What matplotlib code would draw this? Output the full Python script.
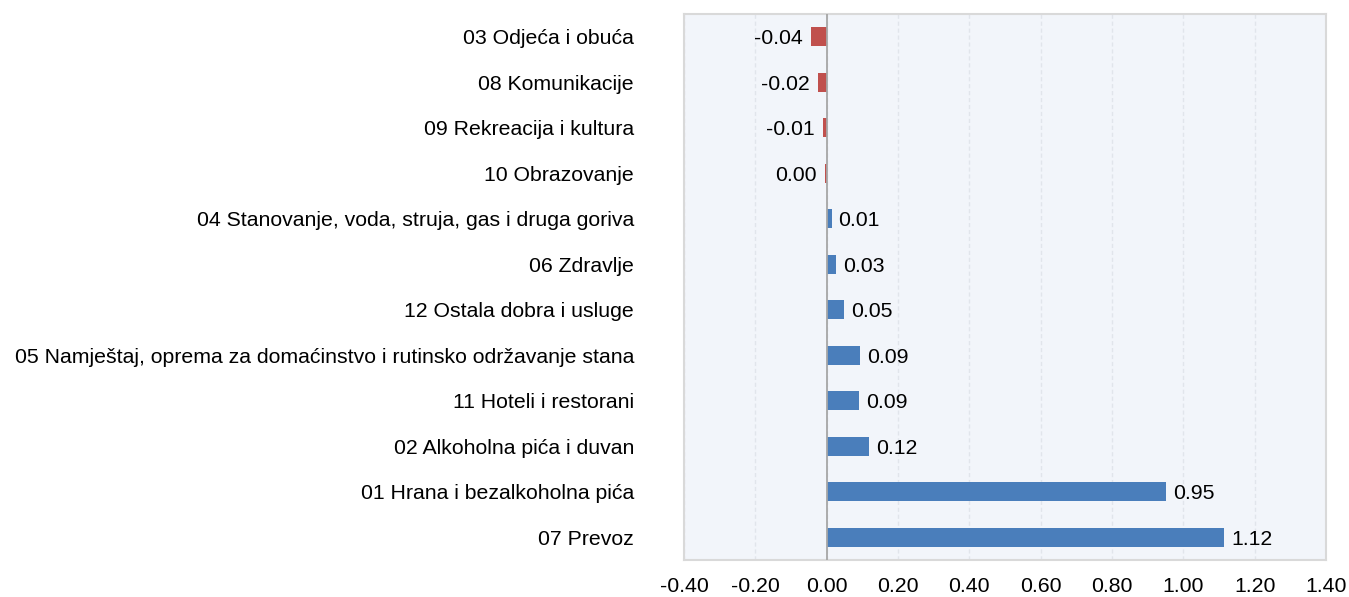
import matplotlib.pyplot as plt

plt.rcParams['font.family'] = ['Liberation Sans', 'DejaVu Sans']

# categories, top to bottom
categories = [
    '03 Odjeća i obuća',
    '08 Komunikacije',
    '09 Rekreacija i kultura',
    '10 Obrazovanje',
    '04 Stanovanje, voda, struja, gas i druga goriva',
    '06 Zdravlje',
    '12 Ostala dobra i usluge',
    '05 Namještaj, oprema za domaćinstvo i rutinsko održavanje stana',
    '11 Hoteli i restorani',
    '02 Alkoholna pića i duvan',
    '01 Hrana i bezalkoholna pića',
    '07 Prevoz',
]
values = [-0.044, -0.024, -0.011, -0.004, 0.014, 0.026, 0.049, 0.093, 0.092, 0.119, 0.951, 1.114]
value_labels = ['-0.04', '-0.02', '-0.01', '0.00', '0.01', '0.03', '0.05', '0.09', '0.09', '0.12', '0.95', '1.12']
x_ticks = [-0.4, -0.2, 0.0, 0.2, 0.4, 0.6, 0.8, 1.0, 1.2, 1.4]

BLUE = '#4A7EBB'
RED = '#C0504D'
FS = 15.3

fig = plt.figure(figsize=(13.49, 5.97), dpi=100)
ax = fig.add_axes([684 / 1349, 1 - 560 / 597, 642 / 1349, 546 / 597])
ax.set_facecolor('#F2F5FA')

ypos = list(range(len(categories)))
colors = [RED if v < 0 else BLUE for v in values]
ax.barh(ypos, values, height=0.41, color=colors, zorder=3)

for y, v, lab in zip(ypos, values, value_labels):
    if v < 0:
        ax.annotate(lab, (v, y), xytext=(-6, 0), textcoords='offset points',
                    ha='right', va='center_baseline', fontsize=FS)
    else:
        ax.annotate(lab, (v, y), xytext=(5, 0), textcoords='offset points',
                    ha='left', va='center_baseline', fontsize=FS)

ax.axvline(0, color='#A6A6A6', lw=1.3, zorder=4)

ax.set_xlim(-0.4, 1.4)
ax.set_ylim(len(categories) - 0.5, -0.5)
ax.set_xticks(x_ticks)
ax.set_xticklabels(['%.2f' % t for t in x_ticks], fontsize=FS)
ax.set_yticks(ypos)
ax.set_yticklabels(categories, fontsize=FS, va='center_baseline')
ax.tick_params(axis='both', length=0)
ax.tick_params(axis='y', pad=36)
ax.tick_params(axis='x', pad=12)

ax.grid(axis='x', color='#E1E5EB', lw=1, ls=(0, (3, 2)), zorder=1)
for s in ax.spines.values():
    s.set_color('#D9D9D9')
    s.set_linewidth(1.5)

fig.savefig('out.png', dpi=100, facecolor='white')
